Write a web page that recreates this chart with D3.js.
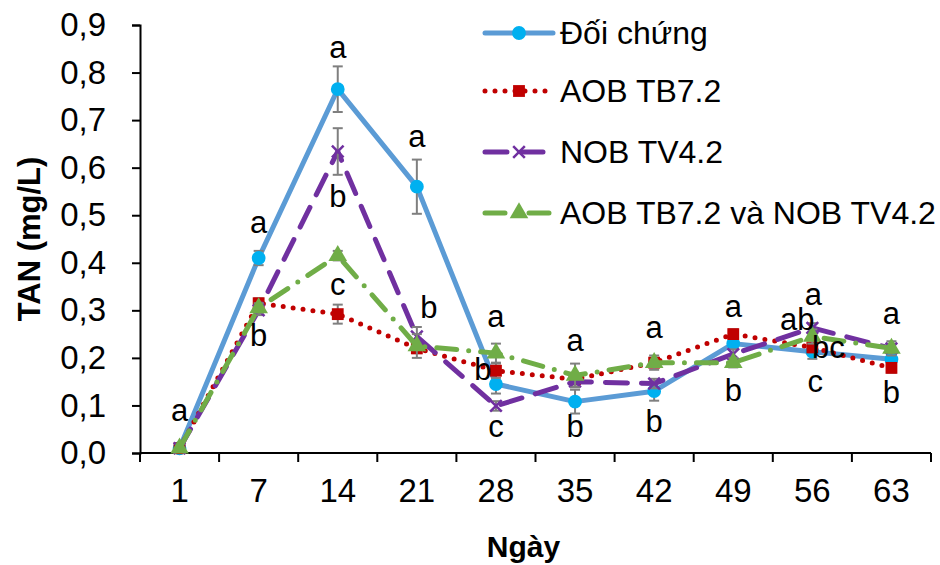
<!DOCTYPE html>
<html>
<head>
<meta charset="utf-8">
<script src="https://cdn.jsdelivr.net/npm/d3@7"></script>
<style>
  body { margin: 0; background: #fff; }
  text { font-family: Arial, "Liberation Sans", sans-serif; }
</style>
</head>
<body>
<div class="chart"></div>
<script>
// data
var days = ["1", "7", "14", "21", "28", "35", "42", "49", "56", "63"];
var seriesNames = ["Đối chứng", "AOB TB7.2", "NOB TV4.2", "AOB TB7.2 và NOB TV4.2"];
var doiChung  = [0.01, 0.41, 0.765, 0.56, 0.145, 0.108, 0.13, 0.23, 0.213, 0.197];
var aob       = [0.01, 0.315, 0.292, 0.22, 0.173, 0.155, 0.19, 0.25, 0.222, 0.179];
var nob       = [0.01, 0.30, 0.634, 0.245, 0.099, 0.15, 0.146, 0.208, 0.263, 0.22];
var aobNob    = [0.01, 0.305, 0.415, 0.225, 0.21, 0.163, 0.19, 0.19, 0.245, 0.22];
var errDoiChung = [0, 0.015, 0.048, 0.057, 0.02, 0.025, 0.02, 0.01, 0.015, 0.01];
var errAob      = [0, 0.01, 0.02, 0.01, 0.015, 0.01, 0.01, 0.01, 0.01, 0.01];
var errNob      = [0, 0.01, 0.049, 0.02, 0.01, 0.01, 0.01, 0.01, 0.01, 0.01];
var errAobNob   = [0, 0.01, 0.01, 0.025, 0.02, 0.025, 0.015, 0.01, 0.015, 0.015];
var yTicks = [0, 0.1, 0.2, 0.3, 0.4, 0.5, 0.6, 0.7, 0.8, 0.9];
// significance letters: day, letter, baseline value, shift in px
var letterDays   = ["1", "7", "7", "14", "14", "14", "21", "21", "28", "28", "28", "35", "35", "42", "42", "49", "49", "56", "56", "56", "56", "63", "63"];
var letterText   = ["a", "a", "b", "a", "b", "c", "a", "b", "a", "b", "c", "a", "b", "a", "b", "a", "b", "a", "ab", "bc", "c", "a", "b"];
var letterValue  = [0.068, 0.463, 0.224, 0.831, 0.518, 0.333, 0.644, 0.284, 0.264, 0.154, 0.034, 0.215, 0.034, 0.242, 0.045, 0.286, 0.11, 0.312, 0.259, 0.2, 0.129, 0.272, 0.106];
var letterShift  = [0, 0, 0, 0, 0, 0, 0, 12, 0, -13, 0, 0, 0, 0, 0, 0, 0, 1, -15, 16, 3, 0, 0];

var width = 940, height = 565;
var plotLeft = 140, plotRight = 931, plotTop = 25, plotBottom = 453;

var svg = d3.select(".chart")
  .append("svg")
    .attr("width", width)
    .attr("height", height);

var x = d3.scaleBand().domain(days).range([plotLeft, plotRight]).padding(0);
var y = d3.scaleLinear().domain([0, 0.9]).range([plotBottom, plotTop]);
var cx = d => x(d) + x.bandwidth() / 2;

var styles = [
  {name: seriesNames[0], values: doiChung, err: errDoiChung, color: "#5B9BD5", mcolor: "#00B0F0", dash: null, width: 5, symbol: d3.symbolCircle, size: 150},
  {name: seriesNames[1], values: aob, err: errAob, color: "#C00000", mcolor: "#C00000", dash: "0 10", width: 5, symbol: d3.symbolSquare, size: 140},
  {name: seriesNames[2], values: nob, err: errNob, color: "#7030A0", mcolor: "#7030A0", dash: "22 14", width: 5, symbol: d3.symbolTimes, size: 90},
  {name: seriesNames[3], values: aobNob, err: errAobNob, color: "#70AD47", mcolor: "#70AD47", dash: "20 12 0 12", width: 5, symbol: d3.symbolTriangle, size: 150}
];

// axes
var yAxis = d3.axisLeft(y)
  .tickValues(yTicks)
  .tickSize(8)
  .tickPadding(26)
  .tickFormat(d => d3.format(".1f")(d).replace(".", ","));
var gy = svg.append("g").attr("transform", "translate(" + plotLeft + ",0)").call(yAxis);
gy.select(".domain").attr("stroke", "#000").attr("stroke-width", 2);
gy.selectAll(".tick line").attr("stroke", "#000").attr("stroke-width", 2);
gy.selectAll(".tick text").attr("font-size", 33).attr("fill", "#000");

var xAxis = d3.axisBottom(x).tickSize(0).tickPadding(26);
var gx = svg.append("g").attr("transform", "translate(0," + plotBottom + ")").call(xAxis);
gx.select(".domain").remove();
gx.selectAll(".tick text").attr("font-size", 33).attr("fill", "#000");
gx.append("line")
  .attr("x1", plotLeft).attr("x2", plotRight)
  .attr("stroke", "#000").attr("stroke-width", 2);
gx.selectAll(".bound")
  .data(days.map(d => x(d)).concat([x(days[days.length - 1]) + x.bandwidth()]))
  .join("line")
    .attr("x1", d => d).attr("x2", d => d)
    .attr("y1", 0).attr("y2", 9)
    .attr("stroke", "#000").attr("stroke-width", 2);

// axis titles
svg.append("text")
  .attr("transform", "translate(40," + (plotTop + plotBottom) / 2 + ") rotate(-90)")
  .attr("text-anchor", "middle")
  .attr("font-size", 31)
  .attr("font-weight", "bold")
  .text("TAN (mg/L)");
svg.append("text")
  .attr("x", (plotLeft + plotRight) / 2 - 12)
  .attr("y", 557)
  .attr("text-anchor", "middle")
  .attr("font-size", 30)
  .attr("font-weight", "bold")
  .text("Ngày");

var line = d3.line().x((d, i) => cx(days[i])).y(d => y(d));

styles.forEach(function(s){
  var g = svg.append("g");
  g.append("path")
    .datum(s.values)
    .attr("d", line)
    .attr("fill", "none")
    .attr("stroke", s.color)
    .attr("stroke-width", s.width)
    .attr("stroke-linecap", "round")
    .attr("stroke-linejoin", "round")
    .attr("stroke-dasharray", s.dash);
  // error bars
  var eb = g.selectAll(".eb").data(s.values.map((v, i) => ({day: days[i], v: v, e: s.err[i]})).filter(d => d.e > 0))
    .join("g");
  eb.append("line")
    .attr("x1", d => cx(d.day)).attr("x2", d => cx(d.day))
    .attr("y1", d => y(d.v - d.e)).attr("y2", d => y(d.v + d.e))
    .attr("stroke", "#7F7F7F").attr("stroke-width", 2);
  [-1, 1].forEach(function(k){
    eb.append("line")
      .attr("x1", d => cx(d.day) - 5).attr("x2", d => cx(d.day) + 5)
      .attr("y1", d => y(d.v + k * d.e)).attr("y2", d => y(d.v + k * d.e))
      .attr("stroke", "#7F7F7F").attr("stroke-width", 2);
  });
  g.selectAll(".mk").data(s.values)
    .join("path")
      .attr("transform", (d, i) => "translate(" + cx(days[i]) + "," + y(d) + ")")
      .attr("d", d3.symbol().type(s.symbol).size(s.size))
      .attr("fill", s.symbol === d3.symbolTimes ? "none" : s.mcolor)
      .attr("stroke", s.symbol === d3.symbolTimes ? s.mcolor : "none")
      .attr("stroke-width", 2.5);
});

// letters
svg.append("g")
  .attr("font-size", 31)
  .attr("text-anchor", "middle")
  .selectAll("text")
  .data(letterText)
  .join("text")
    .attr("x", (d, i) => cx(letterDays[i]) + letterShift[i])
    .attr("y", (d, i) => y(letterValue[i]))
    .text(d => d);

// legend
var legend = svg.append("g");
var rowY = [33, 91, 152, 213];
styles.forEach(function(s, i){
  var r = legend.append("g").attr("transform", "translate(0," + rowY[i] + ")");
  r.append("line")
    .attr("x1", 485).attr("x2", 553)
    .attr("stroke", s.color)
    .attr("stroke-width", s.width)
    .attr("stroke-linecap", "round")
    .attr("stroke-dasharray", s.dash);
  r.append("path")
    .attr("transform", "translate(519,0)")
    .attr("d", d3.symbol().type(s.symbol).size(s.size))
    .attr("fill", s.symbol === d3.symbolTimes ? "none" : s.mcolor)
    .attr("stroke", s.symbol === d3.symbolTimes ? s.mcolor : "none")
    .attr("stroke-width", 2.5);
  r.append("text")
    .attr("x", 560)
    .attr("y", 11)
    .attr("font-size", 32)
    .text(s.name);
});
</script>
</body>
</html>
